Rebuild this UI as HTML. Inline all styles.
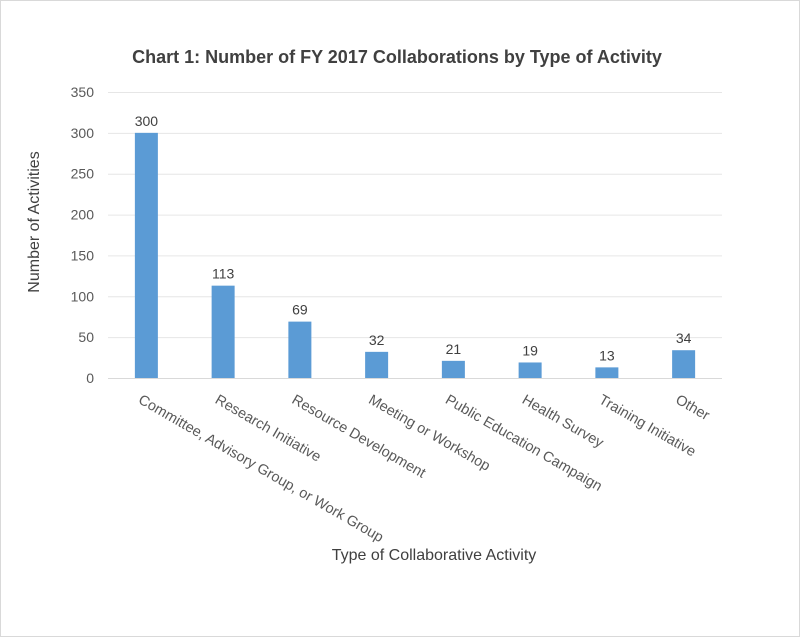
<!DOCTYPE html>
<html><head><meta charset="utf-8"><style>
body{margin:0;background:#fff;}
svg{display:block;font-family:"Liberation Sans",Calibri,sans-serif;}
</style></head><body>
<svg id="chart" width="800" height="637" viewBox="0 0 800 637">
<rect x="0.5" y="0.5" width="799" height="636" fill="#fff" stroke="#d9d9d9"/>
<text x="397" y="63" text-anchor="middle" font-size="18" font-weight="bold" fill="#404040">Chart  1: Number of FY 2017 Collaborations  by Type of Activity</text>
<text transform="translate(39,222) rotate(-90)" text-anchor="middle" font-size="16" fill="#404040">Number of Activities</text>
<text x="434" y="560" text-anchor="middle" font-size="16" fill="#404040">Type of Collaborative Activity</text>
<g id="grid"></g><g id="bars"></g><g id="labels"></g>
</svg>
<script>
const categories=["Committee, Advisory Group, or Work Group","Research Initiative","Resource Development","Meeting or Workshop","Public Education Campaign","Health Survey","Training Initiative","Other"];
const values=[300,113,69,32,21,19,13,34];
const yTicks=[0,50,100,150,200,250,300,350];
const NS="http://www.w3.org/2000/svg";
const x0=108,x1=722,y0=378,y1=92,yMax=350;
const band=(x1-x0)/categories.length, bw=23;
function y(v){return y0-(v/yMax)*(y0-y1);}
function cx(i){return x0+band*(i+0.5);}
function mk(t,a,p){const e=document.createElementNS(NS,t);for(const k in a)e.setAttribute(k,a[k]);p.appendChild(e);return e;}
const grid=document.getElementById('grid'),bars=document.getElementById('bars'),labels=document.getElementById('labels');
yTicks.forEach(t=>{
 const l=mk('line',{x1:x0,x2:x1,y1:y(t)+0.5,y2:y(t)+0.5,stroke:t===0?'#d9d9d9':'#e6e6e6','stroke-width':1},grid);
 
 
 const tx=mk('text',{x:94,y:y(t)+5,'text-anchor':'end','font-size':14,fill:'#595959'},grid);
 tx.textContent=t;
 
 
});
values.forEach((v,i)=>{
 const r=mk('rect',{x:cx(i)-bw/2,y:y(v),width:bw,height:y0-y(v),fill:'#5b9bd5'},bars);
 
 
 const t=mk('text',{x:cx(i),y:y(v)-7,'text-anchor':'middle','font-size':14,fill:'#404040'},bars);
 t.textContent=v;
 
 
 const c=mk('text',{transform:`translate(${cx(i)-3},392) rotate(30)`,x:0,y:12,'font-size':14.5,fill:'#595959'},labels);
 c.textContent=categories[i];
 
 
});
</script>
</body></html>
